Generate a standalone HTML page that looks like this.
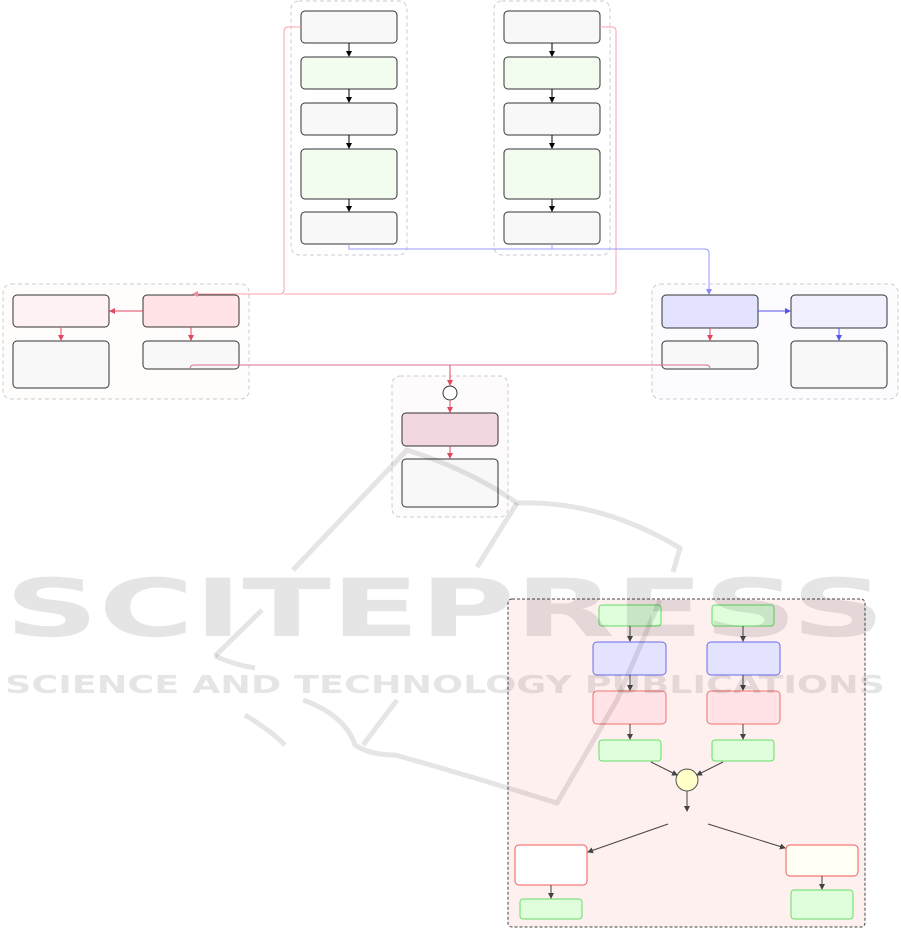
<!DOCTYPE html>
<html><head><meta charset="utf-8"><style>html,body{margin:0;padding:0;background:#fff}svg{display:block}</style></head>
<body>
<svg width="901" height="928" viewBox="0 0 901 928" xmlns="http://www.w3.org/2000/svg" font-family="Liberation Sans, sans-serif">
<defs>
<marker id="ak" markerWidth="6" markerHeight="6" refX="5" refY="3" orient="auto" markerUnits="userSpaceOnUse"><path d="M0,0 L6,3 L0,6 Z" fill="#000"/></marker>
<marker id="ag" markerWidth="6" markerHeight="6" refX="5" refY="3" orient="auto" markerUnits="userSpaceOnUse"><path d="M0,0 L6,3 L0,6 Z" fill="#444"/></marker>
<marker id="ar" markerWidth="6" markerHeight="6" refX="5" refY="3" orient="auto" markerUnits="userSpaceOnUse"><path d="M0,0 L6,3 L0,6 Z" fill="#e04860"/></marker>
<marker id="ap" markerWidth="6" markerHeight="6" refX="5" refY="3" orient="auto" markerUnits="userSpaceOnUse"><path d="M0,0 L6,3 L0,6 Z" fill="#f08a95"/></marker>
<marker id="ab" markerWidth="6" markerHeight="6" refX="5" refY="3" orient="auto" markerUnits="userSpaceOnUse"><path d="M0,0 L6,3 L0,6 Z" fill="#5555ee"/></marker>
<marker id="al" markerWidth="6" markerHeight="6" refX="5" refY="3" orient="auto" markerUnits="userSpaceOnUse"><path d="M0,0 L6,3 L0,6 Z" fill="#8888ff"/></marker>
</defs>
<g fill="none" stroke="#ccc" stroke-dasharray="4,3">
<rect x="291" y="1" width="116" height="254" rx="8" fill="#fff"/>
<rect x="494" y="1" width="116" height="254" rx="8" fill="#fff"/>
<rect x="3" y="284" width="246" height="115" rx="8" fill="#fffdfc"/>
<rect x="652" y="284" width="246" height="115" rx="8" fill="#fcfcff"/>
<rect x="392" y="376" width="116" height="141" rx="8" fill="#fdfbfc"/>
</g>
<rect x="508" y="599" width="357" height="328" rx="4" fill="#fff0f0" stroke="#444" stroke-dasharray="3,2"/>
<g stroke="#333" stroke-width="1">
<rect x="301" y="11" width="96" height="32" rx="4" fill="#f8f8f8"/>
<rect x="301" y="57" width="96" height="32" rx="4" fill="#f2fdf0"/>
<rect x="301" y="103" width="96" height="32" rx="4" fill="#f8f8f8"/>
<rect x="301" y="149" width="96" height="50" rx="4" fill="#f2fdf0"/>
<rect x="301" y="212" width="96" height="32" rx="4" fill="#f8f8f8"/>
<rect x="504" y="11" width="96" height="32" rx="4" fill="#f8f8f8"/>
<rect x="504" y="57" width="96" height="32" rx="4" fill="#f2fdf0"/>
<rect x="504" y="103" width="96" height="32" rx="4" fill="#f8f8f8"/>
<rect x="504" y="149" width="96" height="50" rx="4" fill="#f2fdf0"/>
<rect x="504" y="212" width="96" height="32" rx="4" fill="#f8f8f8"/>
<rect x="13" y="295" width="96" height="32" rx="4" fill="#fff2f2"/>
<rect x="143" y="295" width="96" height="32" rx="4" fill="#ffe3e6"/>
<rect x="13" y="341" width="96" height="47" rx="4" fill="#f8f8f8"/>
<rect x="143" y="341" width="96" height="28" rx="4" fill="#f8f8f8"/>
<rect x="662" y="295" width="96" height="33" rx="4" fill="#e3e3ff"/>
<rect x="791" y="295" width="96" height="33" rx="4" fill="#f0f0ff"/>
<rect x="662" y="341" width="96" height="28" rx="4" fill="#f8f8f8"/>
<rect x="791" y="341" width="96" height="47" rx="4" fill="#f8f8f8"/>
<circle cx="450" cy="393" r="7" fill="#fff"/>
<rect x="402" y="413" width="96" height="33" rx="4" fill="#f3d7e0"/>
<rect x="402" y="459" width="96" height="48" rx="4" fill="#f8f8f8"/>
</g>
<g stroke="#000" marker-end="url(#ak)">
<line x1="349" y1="43" x2="349" y2="56"/><line x1="349" y1="89" x2="349" y2="102"/><line x1="349" y1="135" x2="349" y2="148"/><line x1="349" y1="199" x2="349" y2="211"/>
<line x1="552" y1="43" x2="552" y2="56"/><line x1="552" y1="89" x2="552" y2="102"/><line x1="552" y1="135" x2="552" y2="148"/><line x1="552" y1="199" x2="552" y2="211"/>
</g>
<g fill="none" stroke="#f8a0a8">
<path d="M301,27 H288 Q284,27 284,31 V290 Q284,294 280,294 H193" marker-end="url(#ap)"/>
<path d="M600,27 H612 Q616,27 616,31 V290 Q616,294 612,294 H284"/>
</g>
<g fill="none" stroke="#9a9aff">
<path d="M349,244 V249 H705 Q709,249 709,253 V294" marker-end="url(#al)"/>
<path d="M552,244 V249"/>
</g>
<g stroke="#e04860" fill="none">
<line x1="143" y1="311" x2="110" y2="311" marker-end="url(#ar)"/>
<line x1="61" y1="327" x2="61" y2="340" marker-end="url(#ar)"/>
<line x1="191" y1="327" x2="191" y2="340" marker-end="url(#ar)"/>
<line x1="710" y1="328" x2="710" y2="340" marker-end="url(#ar)"/>
<line x1="450" y1="365" x2="450" y2="385" marker-end="url(#ar)"/>
<line x1="450" y1="400" x2="450" y2="412" marker-end="url(#ar)"/>
<line x1="450" y1="446" x2="450" y2="458" marker-end="url(#ar)"/>
</g>
<path d="M190,369 Q190,365 194,365 H706 Q710,365 710,369" fill="none" stroke="#d87090"/>
<g stroke="#5555ee">
<line x1="758" y1="311" x2="790" y2="311" marker-end="url(#ab)"/>
<line x1="839" y1="328" x2="839" y2="340" marker-end="url(#ab)"/>
</g>
<g stroke-width="1">
<rect x="599" y="605" width="62" height="21" rx="3" fill="#dfffdc" stroke="#66dd66"/>
<rect x="712" y="605" width="62" height="21" rx="3" fill="#dfffdc" stroke="#66dd66"/>
<rect x="593" y="642" width="73" height="33" rx="4" fill="#e3e3ff" stroke="#6a6af0"/>
<rect x="707" y="642" width="73" height="33" rx="4" fill="#e3e3ff" stroke="#6a6af0"/>
<rect x="593" y="691" width="73" height="33" rx="4" fill="#ffe3e6" stroke="#f07070"/>
<rect x="707" y="691" width="73" height="33" rx="4" fill="#ffe3e6" stroke="#f07070"/>
<rect x="599" y="740" width="62" height="21" rx="3" fill="#dfffdc" stroke="#66dd66"/>
<rect x="712" y="740" width="62" height="21" rx="3" fill="#dfffdc" stroke="#66dd66"/>
<ellipse cx="687" cy="780" rx="11" ry="11" fill="#ffffc8" stroke="#555"/>
<rect x="515" y="845" width="72" height="40" rx="4" fill="#fff" stroke="#f05a5a"/>
<rect x="786" y="845" width="72" height="31" rx="4" fill="#fffff4" stroke="#f05a5a"/>
<rect x="520" y="899" width="62" height="20" rx="3" fill="#dfffdc" stroke="#66dd66"/>
<rect x="791" y="890" width="62" height="29" rx="3" fill="#dfffdc" stroke="#66dd66"/>
</g>
<g stroke="#444" marker-end="url(#ag)">
<line x1="630" y1="626" x2="630" y2="641"/><line x1="743" y1="626" x2="743" y2="641"/>
<line x1="630" y1="675" x2="630" y2="690"/><line x1="743" y1="675" x2="743" y2="690"/>
<line x1="630" y1="724" x2="630" y2="739"/><line x1="743" y1="724" x2="743" y2="739"/>
<line x1="651" y1="762" x2="677" y2="775"/><line x1="723" y1="762" x2="697" y2="775"/>
<line x1="687" y1="791" x2="687" y2="811"/>
<line x1="668" y1="824" x2="588" y2="852"/><line x1="708" y1="824" x2="785" y2="848"/>
<line x1="551" y1="885" x2="551" y2="898"/><line x1="822" y1="876" x2="822" y2="889"/>
</g>
<g fill="none" stroke="#000" stroke-opacity="0.1" stroke-width="5" stroke-linejoin="round">
<path d="M293,570 L407,450 Q470,470 517,503 Q600,500 680,548 L673,572"/>
<path d="M477,567 L517,503"/>
<path d="M215,656 L262,610"/>
<path d="M215,656 Q235,665 255,668"/>
<path d="M303,700 Q345,715 355,745 Q370,755 395,755 Q450,770 557,803 L617,700 L660,600"/>
<path d="M397,700 L363,745"/>
<path d="M245,715 Q270,730 285,745"/>
</g>
<g fill="#000" fill-opacity="0.1">
<text x="5" y="636" font-size="80" font-weight="bold" textLength="880" lengthAdjust="spacingAndGlyphs" font-family="DejaVu Sans, sans-serif">SCITEPRESS</text>
<text x="5" y="693" font-size="25" font-weight="bold" textLength="880" lengthAdjust="spacingAndGlyphs" font-family="DejaVu Sans, sans-serif">SCIENCE AND TECHNOLOGY PUBLICATIONS</text>
</g>
</svg>
</body></html>
